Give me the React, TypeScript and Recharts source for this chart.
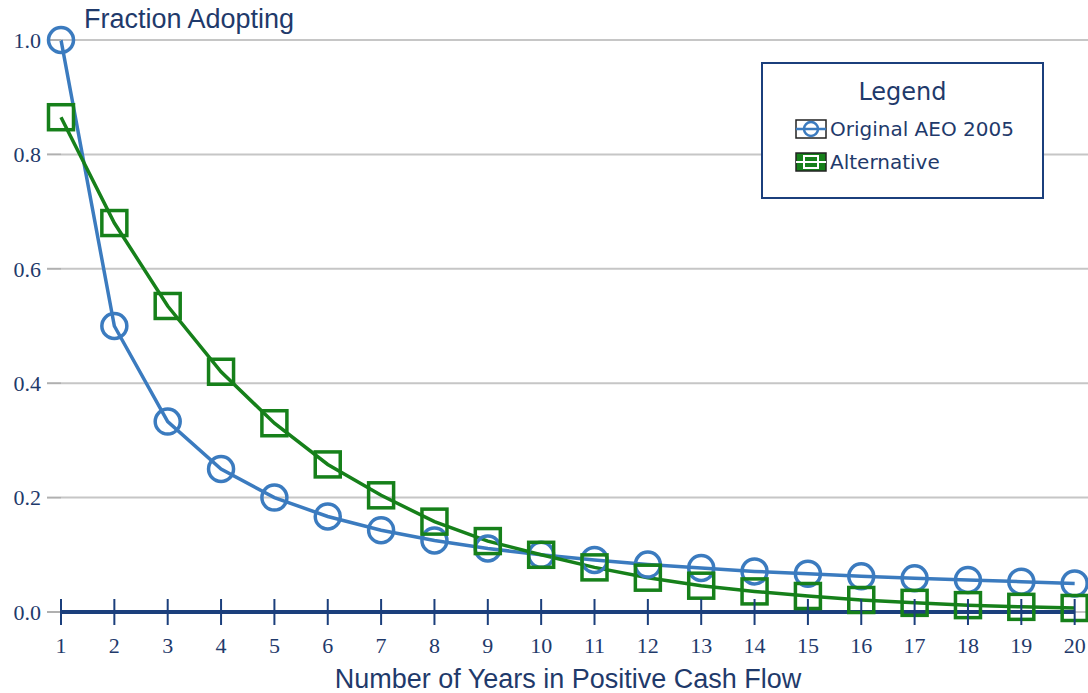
import { LineChart, Line, XAxis, YAxis, CartesianGrid, ReferenceLine } from 'recharts';

const years = [1, 2, 3, 4, 5, 6, 7, 8, 9, 10, 11, 12, 13, 14, 15, 16, 17, 18, 19, 20];
const originalAeo = [1.0, 0.5, 0.333, 0.25, 0.2, 0.167, 0.143, 0.125, 0.111, 0.1, 0.091, 0.083, 0.077, 0.071, 0.067, 0.0625, 0.059, 0.056, 0.053, 0.05];
const alternative = [0.865, 0.68, 0.535, 0.42, 0.33, 0.258, 0.204, 0.158, 0.124, 0.1, 0.078, 0.06, 0.046, 0.036, 0.028, 0.021, 0.016, 0.012, 0.009, 0.007];
const yTicks = [0, 0.2, 0.4, 0.6, 0.8, 1.0];

const BLUE = '#3b7bbf';
const GREEN = '#16801a';
const NAVY = '#1b3f7c';
const TEXT = '#1f3a6b';
const SERIF = "'Liberation Serif', 'DejaVu Serif', serif";
const SANS = "'Liberation Sans', Arial, sans-serif";

const data = years.map((year, i) => ({ year, original: originalAeo[i], alternative: alternative[i] }));

const CircleDot = (props: any) => {
  const { cx, cy } = props;
  if (cx == null || cy == null) return null;
  return <circle cx={cx} cy={cy} r={12.5} fill="none" stroke={BLUE} strokeWidth={3.5} />;
};

const SquareDot = (props: any) => {
  const { cx, cy } = props;
  if (cx == null || cy == null) return null;
  return <rect x={cx - 12.5} y={cy - 12.5} width={25} height={25} fill="none" stroke={GREEN} strokeWidth={3.5} />;
};

// x ticks cross the axis line, labels sit below
const XTick = (props: any) => {
  const { x, y, payload } = props;
  return (
    <g>
      <line x1={x} x2={x} y1={y - 13} y2={y + 13} stroke={NAVY} strokeWidth={2} />
      <text x={x} y={y + 41} textAnchor="middle" fill={TEXT} fontSize={22} fontFamily={SERIF}>
        {payload.value}
      </text>
    </g>
  );
};

const LegendBox = () => (
  <div
    style={{
      position: 'absolute',
      left: 761,
      top: 62,
      width: 279,
      height: 133,
      border: `2px solid ${NAVY}`,
      background: 'white',
      fontFamily: "'DejaVu Sans', sans-serif",
      color: TEXT,
    }}
  >
    <div style={{ textAlign: 'center', fontSize: 24, marginTop: 13, lineHeight: '30px' }}>Legend</div>
    <div style={{ display: 'flex', alignItems: 'center', marginLeft: 32, marginTop: 9, fontSize: 20, lineHeight: '26px' }}>
      <svg width={32} height={20} style={{ marginRight: 3 }}>
        <rect x={1} y={1} width={30} height={18} fill="white" stroke="#222" strokeWidth={1.5} />
        <line x1={1} x2={31} y1={10} y2={10} stroke={BLUE} strokeWidth={2.5} />
        <circle cx={16} cy={10} r={7} fill="none" stroke={BLUE} strokeWidth={2.5} />
      </svg>
      Original AEO 2005
    </div>
    <div style={{ display: 'flex', alignItems: 'center', marginLeft: 32, marginTop: 7, fontSize: 20, lineHeight: '26px' }}>
      <svg width={32} height={20} style={{ marginRight: 3 }}>
        <rect x={1} y={1} width={30} height={18} fill={GREEN} stroke="#222" strokeWidth={1.5} />
        <line x1={1} x2={31} y1={10} y2={10} stroke="white" strokeWidth={2} />
        <rect x={9} y={4} width={14} height={12} fill="none" stroke="white" strokeWidth={2} />
      </svg>
      Alternative
    </div>
  </div>
);

export default function App() {
  return (
    <div style={{ position: 'absolute', left: 0, top: 0, width: 1088, height: 693, background: 'white' }}>
      <LineChart width={1088} height={693} data={data} margin={{ top: 40, right: 0, bottom: 21, left: 0 }}>
        <CartesianGrid vertical={false} stroke="#c6c6c6" strokeWidth={2} />
        <XAxis
          dataKey="year"
          type="number"
          domain={[1, 20.25]}
          ticks={years}
          height={60}
          axisLine={false}
          tickLine={false}
          tickSize={0}
          tickMargin={0}
          tick={<XTick />}
          interval={0}
        />
        <YAxis
          domain={[0, 1]}
          ticks={yTicks}
          width={61}
          axisLine={false}
          tickSize={14}
          tickMargin={6}
          tickLine={{ stroke: '#b0b0b0', strokeWidth: 2 }}
          tickFormatter={(v: number) => v.toFixed(1)}
          tick={{ fill: TEXT, fontSize: 22, fontFamily: SERIF }}
        />
        <ReferenceLine
          segment={[{ x: 1, y: 0 }, { x: 20, y: 0 }]}
          stroke={NAVY}
          strokeWidth={4}
          ifOverflow="visible"
        />
        <Line
          dataKey="original"
          type="linear"
          stroke={BLUE}
          strokeWidth={3.5}
          dot={<CircleDot />}
          activeDot={false}
          isAnimationActive={false}
        />
        <Line
          dataKey="alternative"
          type="linear"
          stroke={GREEN}
          strokeWidth={3.5}
          dot={<SquareDot />}
          activeDot={false}
          isAnimationActive={false}
        />
      </LineChart>
      <LegendBox />
      <div style={{ position: 'absolute', left: 84, top: 4, fontSize: 27, color: TEXT, fontFamily: SANS }}>
        Fraction Adopting
      </div>
      <div
        style={{
          position: 'absolute',
          left: 0,
          width: 1136,
          top: 664,
          textAlign: 'center',
          fontSize: 27,
          color: TEXT,
          fontFamily: SANS,
        }}
      >
        Number of Years in Positive Cash Flow
      </div>
    </div>
  );
}
